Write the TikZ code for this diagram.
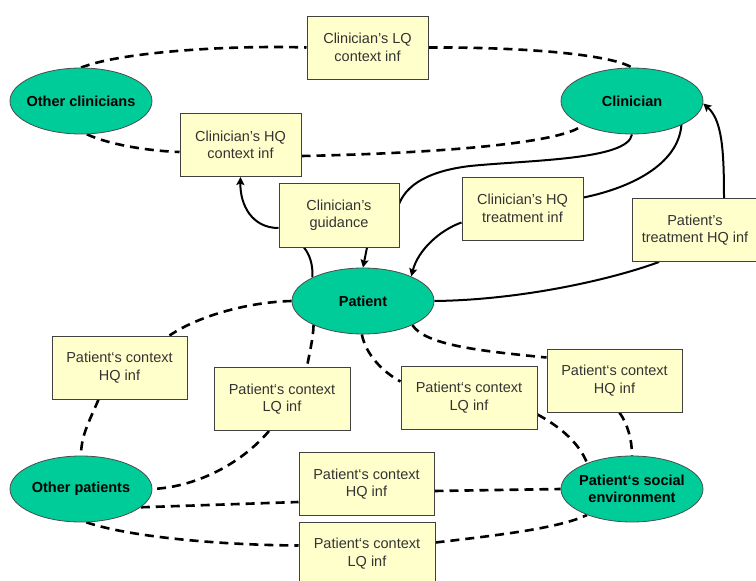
\documentclass[tikz,border=0pt]{standalone}
\usepackage{fontspec}
\setmainfont{Liberation Sans}
\usetikzlibrary{shapes.geometric,arrows.meta,backgrounds,calc}
\definecolor{tealfill}{RGB}{0,204,153}
\definecolor{boxfill}{RGB}{255,255,204}
\begin{document}
\begin{tikzpicture}[x=1pt,y=-1pt,
  ell/.style={ellipse, draw=black!70, line width=0.8pt, fill=tealfill,
    minimum width=142pt, minimum height=66pt, inner xsep=-30pt, inner ysep=0pt,
    font=\fontsize{14.5}{17}\selectfont\bfseries, align=center},
  infobox/.style={rectangle, draw=black!75, line width=1pt, fill=boxfill,
    minimum width=121pt, minimum height=63pt, inner sep=2pt,
    font=\fontsize{14.5}{17.5}\selectfont, text=black!80, align=center},
  dashline/.style={line width=2.6pt, dash pattern=on 9pt off 6pt},
  solidline/.style={line width=2pt},
  arr/.style={-{Stealth[length=8pt,width=8pt,inset=1.5pt]}}
]
\useasboundingbox (0,0) rectangle (756,581);

% ellipses
\node[ell] (oc) at (81,101) {Other clinicians};
\node[ell] (clin) at (632,101) {Clinician};
\node[ell] (pat) at (363,301) {Patient};
\node[ell] (op) at (81,489) {Other patients};
\node[ell] (senv) at (632,489) {Patient‘s social\\environment};

% boxes
\node[infobox] (lqc) at (367.5,47.5) {Clinician’s LQ\\context inf};
\node[infobox] (hqc) at (240.5,145) {Clinician’s HQ\\context inf};
\node[infobox, minimum width=120pt, minimum height=64pt] (guid) at (339,215) {Clinician's\\guidance};
\node[infobox] (treat) at (522.5,208.5) {Clinician’s HQ\\treatment inf};
\node[infobox, minimum width=125pt] (ptreat) at (695,230) {Patient’s\\treatment HQ inf};
\node[infobox, minimum width=135pt] (ctxhql) at (119.5,367.5) {Patient‘s context\\HQ inf};
\node[infobox, minimum width=136pt] (ctxlqml) at (282,399) {Patient‘s context\\LQ inf};
\node[infobox, minimum width=136pt] (ctxlqmr) at (469,397.5) {Patient‘s context\\LQ inf};
\node[infobox, minimum width=135pt] (ctxhqr) at (614.5,380.5) {Patient‘s context\\HQ inf};
\node[infobox, minimum width=135pt] (bot1) at (366.5,484) {Patient‘s context\\HQ inf};
\node[infobox, minimum width=136pt] (bot2) at (367,553.5) {Patient‘s context\\LQ inf};

\begin{pgfonlayer}{background}
% upper dashed
\draw[dashline] (oc.90) .. controls (120,52) and (230,45) .. (lqc.west);
\draw[dashline] (lqc.east) .. controls (520,47) and (610,54) .. (clin.90);
\draw[dashline] (oc.280) .. controls (110,145) and (150,151) .. ($(hqc.west)+(0,7)$);
\draw[dashline] ($(hqc.east)+(0,11)$) .. controls (450,153) and (565,142) .. (clin.206);

% solid
\draw[solidline] (clin.270) .. controls (628,160) and (530,160) .. (470,166)
   .. controls (420,172) and (405,190) .. ($(guid.east)+(0,-12)$)
   -- ($(guid.south)+(-35,0)$) .. controls (310,255) and (313,265) .. (pat.155);
\draw[solidline, arr] ($(guid.south)+(28,0)$) -- (pat.north);
\draw[solidline, arr] ($(guid.west)+(0,13)$) .. controls (252,228) and (240,205) .. (hqc.south);
\draw[solidline] (clin.334) .. controls (678,165) and (630,188) .. ($(treat.east)+(0,-11)$);
\draw[solidline, arr] ($(treat.west)+(0,14)$) .. controls (440,230) and (418,250) .. (pat.27);
\draw[solidline] (pat.east) .. controls (520,300) and (610,280) .. ($(ptreat.south)+(-36,0)$);
\draw[solidline, arr] ($(ptreat.north)+(29,0)$) .. controls (724,150) and (722,120) .. (clin.358);

% lower dashed
\draw[dashline] (pat.west) .. controls (250,302) and (200,315) .. ($(ctxhql.north)+(50,0)$);
\draw[dashline] ($(ctxhql.south)+(-21,0)$) .. controls (90,420) and (81,435) .. (op.north);
\draw[dashline] (pat.206) .. controls (313,340) and (309,355) .. ($(ctxlqml.north)+(25,0)$);
\draw[dashline] ($(ctxlqml.south)+(-13,0)$) .. controls (240,465) and (195,487) .. (op.east);
\draw[dashline] (op.343) -- ($(bot1.west)+(0,18)$);
\draw[dashline] (op.279) .. controls (130,537) and (220,545) .. ($(bot2.west)+(0,-8)$);
\draw[dashline] (pat.268) .. controls (366,355) and (383,372) .. ($(ctxlqmr.west)+(0,-16)$);
\draw[dashline] (pat.334) .. controls (425,345) and (480,351) .. ($(ctxhqr.west)+(0,-23)$);
\draw[dashline] ($(ctxlqmr.east)+(0,17)$) .. controls (555,424) and (578,440) .. (senv.150);
\draw[dashline] ($(ctxhqr.south)+(5,0)$) .. controls (628,425) and (632,440) .. (senv.north);
\draw[dashline] ($(bot1.east)+(0,7)$) -- (senv.west);
\draw[dashline] ($(bot2.east)+(0,-11)$) .. controls (500,535) and (560,528) .. (senv.210);
\end{pgfonlayer}
\end{tikzpicture}
\end{document}
